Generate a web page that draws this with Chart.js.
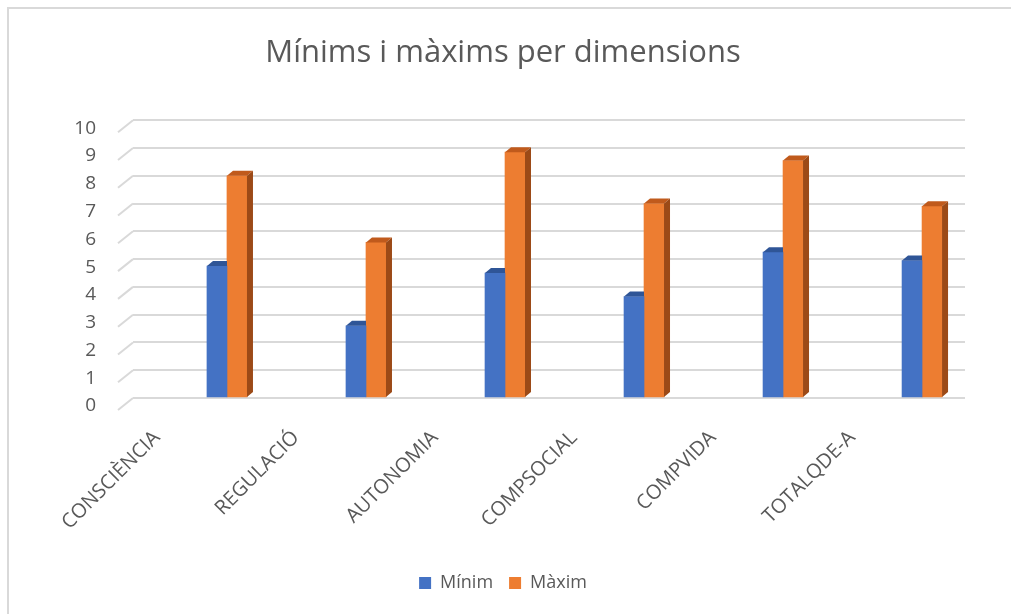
<!DOCTYPE html>
<html>
<head>
<meta charset="utf-8">
<script src="https://cdn.jsdelivr.net/npm/chart.js@4"></script>
<style>
  body { margin: 0; background: #fff; }
  #wrap { position: relative; width: 1011px; height: 614px; overflow: hidden; }
  #frame {
    position: absolute; left: 7px; top: 7px; width: 1020px; height: 620px;
    border-left: 2px solid #d9d9d9; border-top: 2px solid #d9d9d9;
    pointer-events: none;
  }
</style>
</head>
<body>
<div id="wrap">
  <canvas id="chart"></canvas>
  <div id="frame"></div>
</div>
<script>
const categories = ["CONSCIÈNCIA", "REGULACIÓ", "AUTONOMIA", "COMPSOCIAL", "COMPVIDA", "TOTALQDE-A"];
const minims = [4.75, 2.6, 4.5, 3.65, 5.25, 4.95];
const maxims = [8, 5.6, 8.85, 7, 8.55, 6.9];
const yTicks = [0, 1, 2, 3, 4, 5, 6, 7, 8, 9, 10];

const fontFamily = "'Open Sans', sans-serif";
const textColor = "#595959";

// darker faces for the fake 3d look
const faces = [
  { top: "#2f5597", side: "#2f5597" },
  { top: "#c05a1c", side: "#9c4a17" },
];

const depth3d = {
  id: "depth3d",
  afterDatasetsDraw(chart) {
    const ctx = chart.ctx;
    const dx = 6, dy = 5;
    chart.data.datasets.forEach((ds, di) => {
      const meta = chart.getDatasetMeta(di);
      meta.data.forEach((bar) => {
        const x0 = bar.x - bar.width / 2;
        const x1 = bar.x + bar.width / 2;
        const top = bar.y, bottom = bar.base;
        ctx.save();
        ctx.fillStyle = faces[di].top;
        ctx.beginPath();
        ctx.moveTo(x0, top);
        ctx.lineTo(x0 + dx, top - dy);
        if (di === 0) {
          ctx.lineTo(x1, top - dy);
        } else {
          ctx.lineTo(x1 + dx, top - dy);
        }
        ctx.lineTo(x1, top);
        ctx.closePath();
        ctx.fill();
        if (di === 1) {
          ctx.fillStyle = faces[di].side;
          ctx.beginPath();
          ctx.moveTo(x1, top);
          ctx.lineTo(x1 + dx, top - dy);
          ctx.lineTo(x1 + dx, bottom - dy);
          ctx.lineTo(x1, bottom);
          ctx.closePath();
          ctx.fill();
        }
        ctx.restore();
      });
    });
  },
};

// slanted stubs in front of the back wall gridlines
const wallStubs = {
  id: "wallStubs",
  beforeDatasetsDraw(chart) {
    const ctx = chart.ctx;
    const y = chart.scales.y;
    const left = chart.chartArea.left;
    ctx.save();
    ctx.strokeStyle = "#d9d9d9";
    ctx.lineWidth = 2;
    y.ticks.forEach((t) => {
      const py = y.getPixelForValue(t.value);
      ctx.beginPath();
      ctx.moveTo(left - 15, py + 12);
      ctx.lineTo(left, py);
      ctx.stroke();
    });
    ctx.restore();
  },
};

new Chart(document.getElementById("chart"), {
  type: "bar",
  data: {
    datasets: [
      {
        label: "Mínim",
        data: minims.map((v, i) => ({ x: i, y: v })),
        backgroundColor: "#4472c4",
      },
      {
        label: "Màxim",
        data: maxims.map((v, i) => ({ x: i, y: v })),
        backgroundColor: "#ed7d31",
      },
    ],
  },
  options: {
    responsive: true,
    maintainAspectRatio: false,
    animation: false,
    barThickness: 20,
    layout: { padding: { left: 41, right: 46, top: 0, bottom: 12 } },
    plugins: {
      title: {
        display: true,
        text: "Mínims i màxims per dimensions",
        color: textColor,
        font: { family: fontFamily, size: 31, weight: "normal" },
        padding: { top: 35, bottom: 48 },
      },
      legend: {
        position: "bottom",
        labels: {
          color: textColor,
          font: { family: fontFamily, size: 18 },
          boxWidth: 12,
          boxHeight: 12,
          padding: 16,
        },
      },
      tooltip: { enabled: false },
    },
    scales: {
      x: {
        type: "linear",
        offset: false,
        min: -0.676,
        max: 5.309,
        grid: { display: false },
        border: { display: false },
        afterBuildTicks: (scale) => {
          scale.ticks = categories.map((_, i) => ({ value: i }));
        },
        afterFit: (scale) => {
          scale.height = 160;
        },
        ticks: {
          autoSkip: false,
          minRotation: 45,
          maxRotation: 45,
          padding: 20,
          labelOffset: -70,
          color: textColor,
          font: { family: fontFamily, size: 20 },
          callback: (v) => categories[v],
        },
      },
      y: {
        min: 0,
        max: 10,
        afterBuildTicks: (scale) => {
          scale.ticks = yTicks.map((v) => ({ value: v }));
        },
        afterFit: (scale) => {
          scale.width = 92;
        },
        grid: { color: "#d9d9d9", lineWidth: 2, drawTicks: false },
        border: { display: false },
        ticks: {
          padding: 37,
          labelOffset: 8,
          color: textColor,
          font: { family: fontFamily, size: 19 },
        },
      },
    },
  },
  plugins: [wallStubs, depth3d],
});
</script>
</body>
</html>
